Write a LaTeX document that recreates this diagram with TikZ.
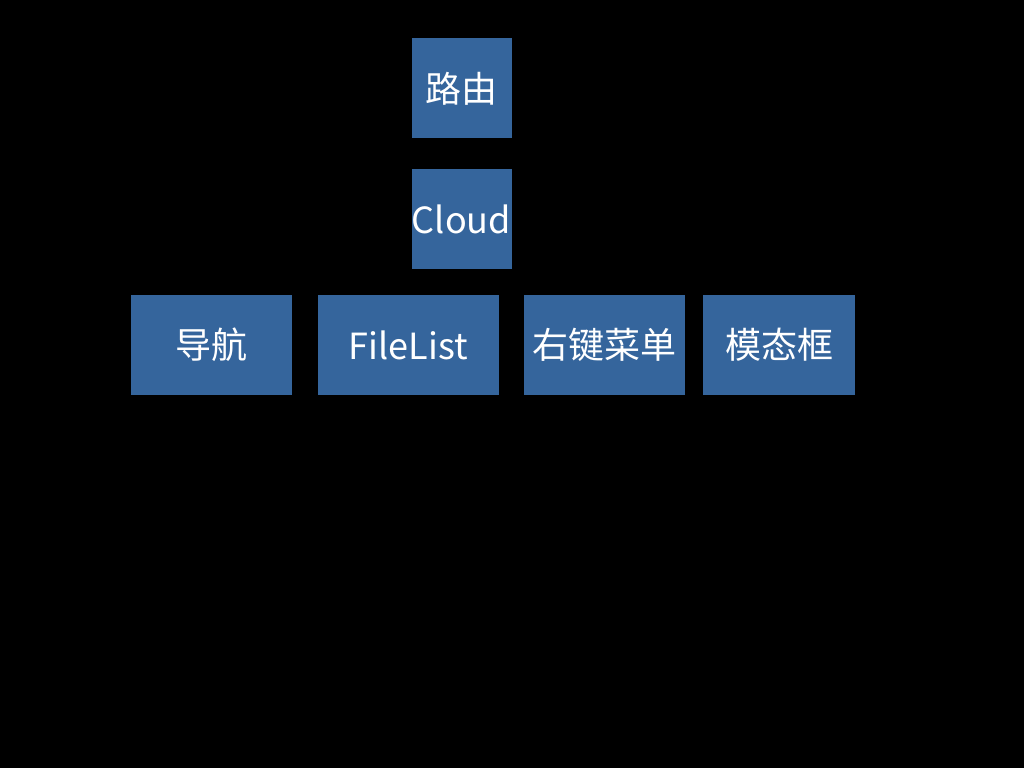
\documentclass[tikz,border=0pt]{standalone}
\usepackage{fontspec}
\setmainfont{Noto Sans CJK SC}
\usetikzlibrary{positioning}
\definecolor{boxblue}{RGB}{53,101,156}

\tikzset{
  block/.style={fill=boxblue, text=white, minimum height=2cm, inner sep=0pt,
                font=\fontsize{20.5}{24}\selectfont},
}

\begin{document}
\begin{tikzpicture}
  \fill[black] (0,0) rectangle (20.48,-15.36);
  \useasboundingbox (0,0) rectangle (20.48,-15.36);

  \node[block, minimum width=2cm]    (route)    at (9.23,-1.77)       {路由};
  \node[block, minimum width=2cm]    (cloud)    [below=0.6cm of route] {Cloud};
  \node[block, minimum width=3.22cm] (nav)      at (4.23,-6.9)        {导航};
  \node[block, minimum width=3.62cm] (filelist) [right=0.5cm of nav]   {FileList};
  \node[block, minimum width=3.22cm] (menu)     [right=0.5cm of filelist] {右键菜单};
  \node[block, minimum width=3.04cm] (modal)    [right=0.34cm of menu] {模态框};
\end{tikzpicture}
\end{document}
